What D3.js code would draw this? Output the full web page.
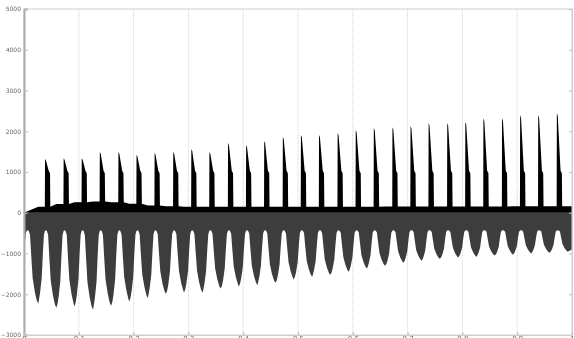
<!DOCTYPE html>
<meta charset="utf-8">
<script src="https://d3js.org/d3.v7.min.js"></script>
<style>
body { margin: 0; background: #fff; }
.tick text { font-family: "DejaVu Sans", sans-serif; }
</style>
<div id="my_dataviz"></div>
<script>

// tick labels
var xTicks = [0, 0.1, 0.2, 0.3, 0.4, 0.5, 0.6, 0.7, 0.8, 0.9, 1];
var yTicks = [-3000, -2000, -1000, 0, 1000, 2000, 3000, 4000, 5000];

// positive pulses: onset time and peak value
var spikeTime = [0.038, 0.072, 0.105, 0.138, 0.172, 0.205, 0.238, 0.272, 0.305, 0.338,
                 0.372, 0.405, 0.438, 0.472, 0.505, 0.538, 0.572, 0.605, 0.638, 0.672,
                 0.705, 0.738, 0.772, 0.805, 0.838, 0.872, 0.905, 0.938, 0.972];
var spikePeak = [1320, 1340, 1340, 1490, 1490, 1420, 1470, 1490, 1560, 1490,
                 1710, 1660, 1760, 1860, 1910, 1910, 1960, 2030, 2080, 2100,
                 2130, 2200, 2200, 2230, 2320, 2320, 2400, 2400, 2450];
var spikeShoulder = 1030;

// positive floor between pulses (read at each trough time)
var baseValue = [150, 215, 260, 275, 260, 220, 180, 160, 150, 150,
                 150, 150, 150, 150, 150, 150, 150, 150, 150, 155,
                 155, 155, 155, 155, 155, 155, 160, 160, 160, 160];

// negative side: troughs and the notches between them
var troughTime = [0.026, 0.059, 0.092, 0.126, 0.159, 0.192, 0.226, 0.259, 0.292, 0.326,
                  0.359, 0.392, 0.426, 0.459, 0.492, 0.526, 0.559, 0.592, 0.626, 0.659,
                  0.692, 0.726, 0.759, 0.792, 0.826, 0.859, 0.892, 0.926, 0.959, 0.992];
var troughValue = [-2230, -2330, -2300, -2380, -2280, -2180, -2090, -1990, -1960, -1960,
                   -1860, -1810, -1770, -1720, -1640, -1570, -1520, -1450, -1370, -1300,
                   -1230, -1180, -1130, -1100, -1080, -1050, -1030, -1000, -980, -960];
var gapTime = [0.007, 0.040, 0.074, 0.107, 0.140, 0.174, 0.207, 0.240, 0.274, 0.307,
               0.340, 0.374, 0.407, 0.440, 0.474, 0.507, 0.540, 0.574, 0.607, 0.640,
               0.674, 0.707, 0.740, 0.774, 0.807, 0.840, 0.874, 0.907, 0.940, 0.974];
var gapValue = -430;

var margin = {top: 9, right: 2, bottom: 3, left: 24},
    width = 574 - margin.left - margin.right,
    height = 338 - margin.top - margin.bottom;

var root = d3.select("#my_dataviz")
  .append("svg")
    .attr("width", 574)
    .attr("height", 338);

// the reference is a soft, slightly blurred screenshot
root.append("defs")
  .append("filter")
    .attr("id", "soft")
  .append("feGaussianBlur")
    .attr("stdDeviation", 0.45);

var svg = root.append("g")
    .attr("transform", "translate(" + margin.left + "," + margin.top + ")")
    .attr("filter", "url(#soft)");

var x = d3.scaleLinear().domain([0, 1]).range([0, width]);
var y = d3.scaleLinear().domain([-3000, 5000]).range([height, 0]);
var px = 1 / width;   // one pixel in time units

// vertical dotted grid
svg.append("g")
  .selectAll("line")
  .data(xTicks.slice(1, -1))
  .enter()
  .append("line")
    .attr("x1", function(d) { return x(d); })
    .attr("x2", function(d) { return x(d); })
    .attr("y1", 0)
    .attr("y2", height)
    .style("stroke", "#d0d0d0")
    .style("stroke-dasharray", "1,1");

// upper (positive) envelope
var upper = [[0, 0]];
troughTime.forEach(function(t, i) {
  var b = baseValue[i];
  upper.push([t, b]);
  if (i < spikeTime.length) {
    var s = spikeTime[i], p = spikePeak[i];
    upper.push([s, b]);
    upper.push([s + 0.2 * px, p]);
    upper.push([s + 1.1 * px, p * 0.97]);
    upper.push([s + 3.9 * px, spikeShoulder]);
    upper.push([s + 5.2 * px, spikeShoulder * 0.94]);
    upper.push([s + 5.5 * px, b]);
  }
});
upper.push([1, baseValue[baseValue.length - 1]]);

// lower (negative) envelope: rounded notch tops, pointed troughs
var lower = [[0, 0], [0.0005, -1500]];
gapTime.forEach(function(g, i) {
  var before = i > 0 ? troughValue[i - 1] : -1500,
      after = troughValue[i];
  [[7, 0.95], [5.8, 0.85], [4.2, 0.65], [3, 0.3], [2, 0.06], [1, 0.01]].forEach(function(o) {
    var t = g - o[0] * px;
    if (t > 0.001) lower.push([t, gapValue + o[1] * (before - gapValue)]);
  });
  lower.push([g, gapValue]);
  [[1, 0.01], [2.2, 0.06], [3.2, 0.3], [4.8, 0.65], [7, 0.84], [9, 0.96]].forEach(function(o) {
    lower.push([g + o[0] * px, gapValue + o[1] * (after - gapValue)]);
  });
  lower.push([troughTime[i], after]);
});
lower.push([1, -900]);

var area = d3.area()
  .x(function(d) { return x(d[0]); })
  .y0(y(0))
  .y1(function(d) { return y(d[1]); });

svg.append("path")
  .datum(lower)
  .attr("d", area)
  .style("fill", "#3d3d3d");

svg.append("path")
  .datum(upper)
  .attr("d", area)
  .style("fill", "#000");

// frame
svg.append("rect")
  .attr("width", width)
  .attr("height", height)
  .style("fill", "none")
  .style("stroke", "#cfcfcf");

// left axis
svg.append("g")
  .call(d3.axisLeft(y).tickValues(yTicks).tickSize(-4).tickPadding(3).tickFormat(d3.format("d")))
  .call(function(g) {
    g.select(".domain").style("stroke", "#aaa").style("stroke-width", 2);
    g.selectAll(".tick line").style("stroke", "#bbb");
    g.selectAll(".tick text").style("font-size", "6px").style("fill", "#666");
  });

// right ticks
svg.append("g")
  .attr("transform", "translate(" + width + ",0)")
  .call(d3.axisRight(y).tickValues(yTicks).tickSize(-3).tickFormat(""))
  .call(function(g) {
    g.select(".domain").style("stroke", "#cfcfcf");
    g.selectAll(".tick line").style("stroke", "#bbb");
  });

// bottom axis
svg.append("g")
  .attr("transform", "translate(0," + height + ")")
  .call(d3.axisBottom(x).tickValues(xTicks).tickSize(-3).tickPadding(1).tickFormat(d3.format("")))
  .call(function(g) {
    g.select(".domain").style("stroke", "#cfcfcf");
    g.selectAll(".tick line").style("stroke", "#bbb");
    g.selectAll(".tick text").style("font-size", "7px").style("fill", "#666");
  });

</script>
